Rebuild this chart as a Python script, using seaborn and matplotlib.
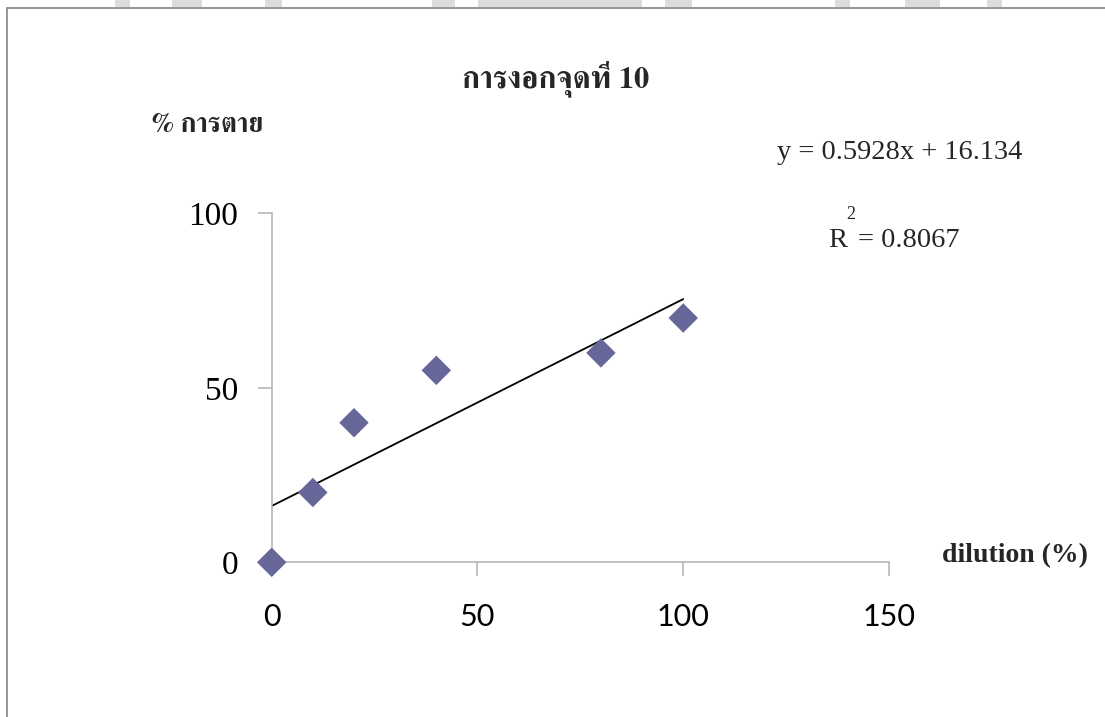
import matplotlib
matplotlib.use("Agg")
import matplotlib.pyplot as plt
from matplotlib import font_manager
from matplotlib.ft2font import FT2Font
from matplotlib.patches import Rectangle
from matplotlib.lines import Line2D
import matplotlib.patheffects as pe
import numpy as np
import pandas as pd
import seaborn as sns

# ---- data ----
dilution = [0, 10, 20, 40, 80, 100]
mortality = [0, 20, 40, 55, 60, 70]
trend_slope = 0.5928
trend_intercept = 16.134
trend_r2 = 0.8067
x_ticks = [0, 50, 100, 150]
y_ticks = [0, 50, 100]

title_text = "การงอกจุดที่ 10"
ylabel_text = "% การตาย"
xlabel_text = "dilution (%)"

W, H = 1105, 717
DPI = 100

sns.set_theme(style="white")
plt.rcParams["font.family"] = ["Liberation Serif", "DejaVu Sans"]


def thai_family():
    """Pick an installed family covering Thai script; prefer serif faces with a bold weight."""
    fams = {}
    for f in font_manager.fontManager.ttflist:
        try:
            cm = FT2Font(f.fname).get_charmap()
        except Exception:
            continue
        if 0x0E01 not in cm:
            continue
        w = f.weight if isinstance(f.weight, int) else (700 if "bold" in str(f.weight).lower() else 400)
        info = fams.setdefault(f.name, {"bold": False})
        if w >= 600:
            info["bold"] = True
    best, best_score, best_bold = None, -1, False
    for name, info in fams.items():
        low = name.lower()
        score = 0
        if info["bold"]:
            score += 4
        if "serif" in low and "sans" not in low:
            score += 3
        if "thai" in low:
            score += 1
        if score > best_score:
            best, best_score, best_bold = name, score, info["bold"]
    return best, best_bold


thai, thai_has_bold = thai_family()
thai_fams = [thai, "Liberation Serif", "DejaVu Sans"] if thai else ["Liberation Serif", "DejaVu Sans"]
thai_kw = {"fontweight": "bold"}
if not thai_has_bold:
    thai_kw["path_effects"] = [pe.withStroke(linewidth=1.3, foreground="black")]

fig = plt.figure(figsize=(W / DPI, H / DPI), dpi=DPI)
fig.patch.set_facecolor("white")


def fx(px):
    return px / W


def fy(py):
    return 1 - py / H


# axes placed in pixel terms
x0_px, x1_px = 271.7, 889.0
y0_px, y1_px = 562.3, 213.3
ax = fig.add_axes([fx(x0_px), fy(y0_px), fx(x1_px) - fx(x0_px), fy(y1_px) - fy(y0_px)])
ax.set_facecolor("white")

df = pd.DataFrame({"dilution": dilution, "mortality": mortality})

# linear trend across the measured range
xs = np.array([min(dilution), max(dilution)], dtype=float)
trend = pd.DataFrame({"x": xs, "y": trend_slope * xs + trend_intercept})
sns.lineplot(data=trend, x="x", y="y", ax=ax, color="black", linewidth=1.3, zorder=2)

sns.scatterplot(data=df, x="dilution", y="mortality", ax=ax, marker="D", s=225,
                color="#666699", edgecolor="none", linewidth=0, zorder=3, clip_on=False)

ax.set_xlim(0, 150)
ax.set_ylim(0, 100)
ax.set_xticks(x_ticks)
ax.set_yticks(y_ticks)
ax.set_xticklabels([str(v) for v in x_ticks], fontfamily="Lato", fontsize=22)
ax.set_yticklabels([str(v) for v in y_ticks], fontfamily="Liberation Serif", fontsize=24)
ax.set_xlabel("")
ax.set_ylabel("")

for side in ("top", "right"):
    ax.spines[side].set_visible(False)
for side in ("left", "bottom"):
    ax.spines[side].set_color("#b0b0b0")
    ax.spines[side].set_linewidth(1.1)
ax.tick_params(axis="both", which="major", direction="out", length=10, width=1.1,
               color="#b0b0b0", labelcolor="black", bottom=True, left=True,
               top=False, right=False)
ax.tick_params(axis="x", pad=19)
ax.tick_params(axis="y", pad=14)
ax.grid(False)

# titles and annotations
fig.text(fx(556), fy(87), title_text, ha="center", va="baseline",
         fontsize=22, family=thai_fams, **thai_kw)
fig.text(fx(152), fy(132), ylabel_text, ha="left", va="baseline",
         fontsize=19.5, family=thai_fams, **thai_kw)
fig.text(fx(942), fy(562), xlabel_text, ha="left", va="baseline",
         fontsize=20, fontweight="bold", family="Liberation Serif")

fig.text(fx(777), fy(159), f"y = {trend_slope}x + {trend_intercept}", ha="left", va="baseline",
         fontsize=20.5, family="Liberation Serif")
fig.text(fx(828), fy(247), "R", ha="left", va="baseline", fontsize=20.5, family="Liberation Serif")
fig.text(fx(846), fy(219), "2", ha="left", va="baseline", fontsize=13, family="Liberation Serif")
fig.text(fx(858), fy(247), f"= {trend_r2}", ha="left", va="baseline",
         fontsize=20.5, family="Liberation Serif")

# chart-area frame (top and left edges)
fig.add_artist(Line2D([fx(7), 1], [fy(8), fy(8)], color="#858585", linewidth=1.2))
fig.add_artist(Line2D([fx(7), fx(7)], [0, fy(8)], color="#858585", linewidth=1.2))

# light grey shapes along the upper margin
for a, b in [(115, 130), (172, 202), (265, 282), (432, 455), (478, 642),
             (665, 692), (835, 850), (905, 940), (987, 1002)]:
    fig.add_artist(Rectangle((fx(a), fy(7)), fx(b) - fx(a), fy(0) - fy(7),
                             transform=fig.transFigure, facecolor="#dcdcdc",
                             edgecolor="none"))

fig.savefig("out.png", dpi=DPI, facecolor="white")
